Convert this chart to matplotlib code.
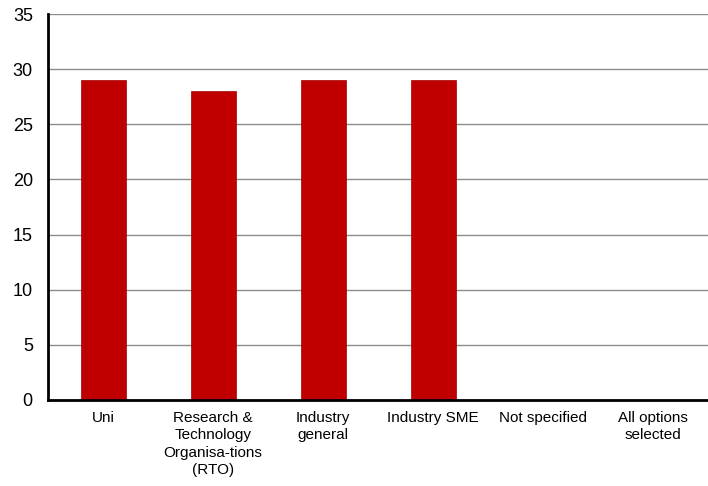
import matplotlib.pyplot as plt

# Categories and counts
categories = ["Uni", "Research &\nTechnology\nOrganisa-tions\n(RTO)", "Industry\ngeneral",
              "Industry SME", "Not specified", "All options\nselected"]
counts = [29, 28, 29, 29, 0, 0]
yticks = [0, 5, 10, 15, 20, 25, 30, 35]

plt.rcParams['font.family'] = ['Liberation Sans', 'DejaVu Sans']

fig = plt.figure(figsize=(7.08, 4.86), dpi=100)
ax = fig.add_axes([0.068, 0.177, 0.932, 0.794])

x = range(len(categories))
ax.bar(x, counts, width=0.41, color='#C00000', edgecolor='#a00000', linewidth=0.5, zorder=3)

ax.set_xlim(-0.5, len(categories) - 0.5)
ax.set_ylim(0, 35)
ax.set_yticks(yticks)
ax.set_xticks(list(x))
ax.set_xticklabels(categories, fontsize=11, linespacing=1.3)
ax.tick_params(axis='y', labelsize=13, length=0, pad=11)
ax.tick_params(axis='x', length=0, pad=8)

ax.yaxis.grid(True, color='#8c8c8c', linewidth=1.0, zorder=0)
ax.spines['top'].set_visible(False)
ax.spines['right'].set_visible(False)
ax.spines['left'].set_linewidth(2)
ax.spines['bottom'].set_linewidth(2)
ax.spines['left'].set_zorder(4)
ax.spines['bottom'].set_zorder(4)

fig.savefig('out.png', dpi=100)
